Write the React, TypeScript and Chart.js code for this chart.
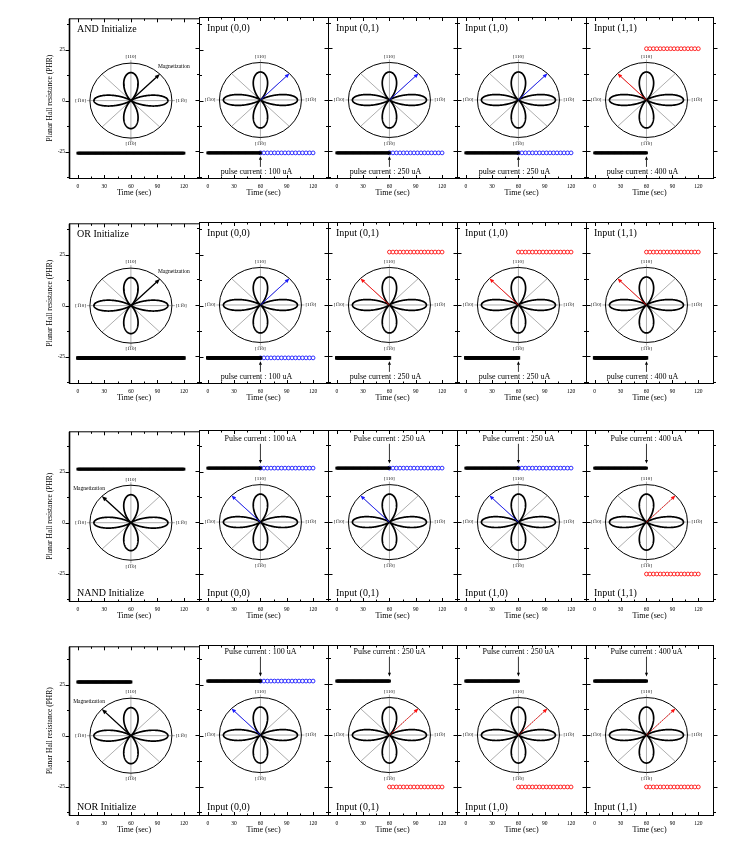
import React, { useEffect, useRef } from 'react';
import { Chart, registerables } from 'chart.js';

Chart.register(...registerables);

const SERIF = '"Liberation Serif", "Times New Roman", Times, serif';

// ---------------- data ----------------
// sampling times (sec)
const TIME_FULL_SEC = [
  0, 1, 2, 3, 4, 5, 6, 7, 8, 9, 10, 11, 12, 13, 14, 15, 16, 17, 18, 19, 20,
  21, 22, 23, 24, 25, 26, 27, 28, 29, 30, 31, 32, 33, 34, 35, 36, 37, 38, 39, 40,
  41, 42, 43, 44, 45, 46, 47, 48, 49, 50, 51, 52, 53, 54, 55, 56, 57, 58, 59, 60,
  61, 62, 63, 64, 65, 66, 67, 68, 69, 70, 71, 72, 73, 74, 75, 76, 77, 78, 79, 80,
  81, 82, 83, 84, 85, 86, 87, 88, 89, 90, 91, 92, 93, 94, 95, 96, 97, 98, 99, 100,
  101, 102, 103, 104, 105, 106, 107, 108, 109, 110, 111, 112, 113, 114, 115, 116, 117, 118, 119, 120,
];
const TIME_BEFORE_SEC = [
  0, 1, 2, 3, 4, 5, 6, 7, 8, 9, 10, 11, 12, 13, 14, 15, 16, 17, 18, 19, 20,
  21, 22, 23, 24, 25, 26, 27, 28, 29, 30, 31, 32, 33, 34, 35, 36, 37, 38, 39, 40,
  41, 42, 43, 44, 45, 46, 47, 48, 49, 50, 51, 52, 53, 54, 55, 56, 57, 58, 59, 60,
];
const TIME_AFTER_SEC = [
  60, 64, 68, 72, 76, 80, 84, 88, 92, 96, 100, 104, 108, 112, 116, 120,
];

const GATES = ['AND', 'OR', 'NAND', 'NOR'];
// which time base the initialize panel uses (NOR initialize was recorded only to 60 s)
const INIT_FULL = [true, true, true, false];
// PHR level before the pulse, per gate row
const PHR_INIT = [-25.7, -25.7, 26.2, 26.2];
// PHR level after the pulse, per gate row, per input column
const PHR_AFTER = [
  [-25.7, -25.7, -25.7, 24.9],
  [-25.7, 25.7, 25.7, 25.7],
  [26.2, 26.2, 26.2, -25.2],
  [26.2, -25.2, -25.2, -25.2],
];
const INPUTS = ['(0,0)', '(0,1)', '(1,0)', '(1,1)'];
const PULSE_UA = [100, 250, 250, 400];

const X_TICKS = [0, 30, 60, 90, 120];
const X_MINOR = [0, 15, 30, 45, 60, 75, 90, 105, 120];
const Y_TICKS = [-25, 0, 25];
const Y_MINOR = [-37.5, -25, -12.5, 0, 12.5, 25, 37.5];
const Y_MAX = [40.3, 40.3, 44.7, 43.7];
const Y_MIN = [-37.9, -37.9, -38.3, -38.8];

// ---------------- layout ----------------
const COL_EDGES = [69, 199, 328, 457, 586, 713];
const ROW_TOPS = [17, 222, 430, 645];
const ROW_BOTTOMS = [178, 383, 601, 815];
const BAR_RADIUS = [2, 2.5, 2, 2.1];
const PAD_T = 6;
const PAD_R = 6;
const PAD_B = 22;
const PAD_L = 6;
const FIRST_LEFT = 40;

const BLUE = '#1a1aff';
const RED = '#ff1010';

function geom(r: number, c: number) {
  const left = c === 0 ? FIRST_LEFT : COL_EDGES[c] - PAD_L;
  const padL = COL_EDGES[c] - left;
  const plotW = COL_EDGES[c + 1] - COL_EDGES[c];
  const plotH = ROW_BOTTOMS[r] - ROW_TOPS[r];
  return {
    left,
    top: ROW_TOPS[r] - PAD_T,
    padL,
    w: padL + plotW + PAD_R,
    h: PAD_T + plotH + PAD_B,
  };
}

function line(ctx: CanvasRenderingContext2D, x0: number, y0: number, x1: number, y1: number) {
  ctx.beginPath();
  ctx.moveTo(x0, y0);
  ctx.lineTo(x1, y1);
  ctx.stroke();
}

function arrow(
  ctx: CanvasRenderingContext2D,
  x0: number, y0: number, x1: number, y1: number,
  color: string, lw: number, head: number, dash: number[] = []
) {
  ctx.save();
  ctx.strokeStyle = color;
  ctx.fillStyle = color;
  ctx.lineWidth = lw;
  ctx.setLineDash(dash);
  const ang = Math.atan2(y1 - y0, x1 - x0);
  const bx = x1 - Math.cos(ang) * head * 0.8;
  const by = y1 - Math.sin(ang) * head * 0.8;
  line(ctx, x0, y0, bx, by);
  ctx.setLineDash([]);
  ctx.beginPath();
  ctx.moveTo(x1, y1);
  ctx.lineTo(x1 - Math.cos(ang - 0.4) * head, y1 - Math.sin(ang - 0.4) * head);
  ctx.lineTo(x1 - Math.cos(ang + 0.4) * head, y1 - Math.sin(ang + 0.4) * head);
  ctx.closePath();
  ctx.fill();
  ctx.restore();
}

function makeChart(canvas: HTMLCanvasElement, r: number, c: number) {
  const g = geom(r, c);
  const isInit = c === 0;
  const initLevel = PHR_INIT[r];
  const afterLevel = isInit ? initLevel : PHR_AFTER[r][c - 1];
  const switched = Math.sign(afterLevel) !== Math.sign(initLevel);
  const afterColor = switched ? RED : BLUE;
  const topRow = r < 2;
  const title = isInit ? `${GATES[r]} Initialize` : `Input ${INPUTS[c - 1]}`;
  const arrowDeg = afterLevel < 0 ? 45 : 135;
  const arrowColor = isInit ? '#000' : afterColor;

  const blackTimes = isInit && INIT_FULL[r] ? TIME_FULL_SEC : TIME_BEFORE_SEC;
  const datasets: any[] = [
    {
      data: blackTimes.map((t) => ({ x: t, y: initLevel })),
      pointStyle: 'rect',
      pointRadius: BAR_RADIUS[r],
      backgroundColor: '#000',
      borderColor: '#000',
      borderWidth: 0,
    },
  ];
  if (!isInit) {
    datasets.push({
      data: TIME_AFTER_SEC.map((t) => ({ x: t, y: afterLevel })),
      pointStyle: 'circle',
      pointRadius: 1.9,
      backgroundColor: '#ffffff',
      borderColor: afterColor,
      borderWidth: 0.9,
    });
  }

  const insetPlugin = {
    id: `panel_${r}_${c}`,
    afterDraw(chart: any) {
      const { ctx, chartArea: a, scales } = chart;
      const xs = scales.x;
      const ys = scales.y;
      ctx.save();
      // frame
      const L = a.left + 0.5, R = a.right + 0.5, T = a.top + 0.5, B = a.bottom + 0.5;
      ctx.strokeStyle = '#000';
      ctx.lineWidth = 1;
      ctx.strokeRect(L, T, R - L, B - T);
      if (c === 0) {
        ctx.lineWidth = 1.6;
        line(ctx, L, T, L, B);
        ctx.lineWidth = 1;
      }
      // y ticks (outward, both sides)
      for (const v of Y_MINOR) {
        const py = Math.round(ys.getPixelForValue(v)) + 0.5;
        const len = v % 25 === 0 ? 4 : 2.5;
        line(ctx, L - len, py, L, py);
        line(ctx, R, py, R + len, py);
      }
      // x ticks (inward, top & bottom)
      for (const v of X_MINOR) {
        const px = Math.round(xs.getPixelForValue(v)) + 0.5;
        const len = v % 30 === 0 ? 3.5 : 2;
        line(ctx, px, B, px, B - len);
        line(ctx, px, T, px, T + len);
      }

      // ----- polar inset -----
      const cx = xs.getPixelForValue(60);
      const cy = ys.getPixelForValue(0);
      const RX = 41, RY = 37.5;
      ctx.strokeStyle = '#777';
      ctx.lineWidth = 0.6;
      line(ctx, cx - RX - 3, cy, cx + RX + 3, cy);
      line(ctx, cx, cy - RY - 3, cx, cy + RY + 3);
      for (const d of [45, 135]) {
        const t = (d * Math.PI) / 180;
        line(ctx, cx + RX * Math.cos(t), cy - RY * Math.sin(t), cx - RX * Math.cos(t), cy + RY * Math.sin(t));
      }
      ctx.strokeStyle = '#000';
      ctx.lineWidth = 1;
      ctx.beginPath();
      ctx.ellipse(cx, cy, RX, RY, 0, 0, Math.PI * 2);
      ctx.stroke();
      // four-lobed (clover) angular pattern
      const LX = 37, LY = 28;
      ctx.lineWidth = 1.7;
      ctx.beginPath();
      for (let i = 0; i <= 720; i++) {
        const t = (i * Math.PI) / 360;
        const rr = Math.abs(Math.cos(2 * t)) ** 2.2;
        const px = cx + rr * Math.cos(t) * LX;
        const py = cy - rr * Math.sin(t) * LY;
        if (i === 0) ctx.moveTo(px, py);
        else ctx.lineTo(px, py);
      }
      ctx.closePath();
      ctx.stroke();
      // direction labels
      ctx.fillStyle = '#000';
      ctx.font = `5px ${SERIF}`;
      ctx.textBaseline = 'middle';
      ctx.textAlign = 'center';
      ctx.fillText('[110]', cx, cy - RY - 6);
      ctx.fillText('[1\u03051\u03050]', cx, cy + RY + 6);
      ctx.textAlign = 'right';
      ctx.fillText('[1\u030510]', cx - RX - 4, cy);
      ctx.textAlign = 'left';
      ctx.fillText('[11\u03050]', cx + RX + 4, cy);

      // magnetization arrow
      const at = (arrowDeg * Math.PI) / 180;
      const tx = cx + RX * Math.cos(at);
      const ty = cy - RY * Math.sin(at);
      if (isInit) {
        arrow(ctx, cx, cy, tx, ty, '#000', 1.3, 5.5);
        ctx.font = `5.5px ${SERIF}`;
        ctx.fillStyle = '#000';
        if (arrowDeg === 45) {
          ctx.textAlign = 'left';
          ctx.fillText('Magnetization', tx - 2, ty - 8);
        } else {
          ctx.textAlign = 'right';
          ctx.fillText('Magnetization', tx + 3, ty - 8);
        }
      } else {
        arrow(ctx, cx, cy, tx, ty, arrowColor, 0.9, 5, switched && !topRow ? [2, 1] : []);
      }

      // panel title
      ctx.fillStyle = '#000';
      ctx.font = `10px ${SERIF}`;
      ctx.textAlign = 'left';
      ctx.textBaseline = 'middle';
      ctx.fillText(title, a.left + 8, topRow ? a.top + 11 : a.bottom - 8);

      // pulse annotation
      if (!isInit) {
        const label = `${topRow ? 'pulse' : 'Pulse'} current : ${PULSE_UA[c - 1]} uA`;
        ctx.font = `8px ${SERIF}`;
        ctx.textAlign = 'center';
        if (topRow) {
          ctx.fillText(label, cx - 4, ys.getPixelForValue(-35));
          arrow(ctx, cx, ys.getPixelForValue(-32.5), cx, ys.getPixelForValue(-27.3), '#000', 0.8, 4);
        } else {
          ctx.fillText(label, cx, ys.getPixelForValue(40.5));
          arrow(ctx, cx, ys.getPixelForValue(38), cx, ys.getPixelForValue(28.4), '#000', 0.8, 4);
        }
      }
      ctx.restore();
    },
  };

  return new Chart(canvas, {
    type: 'scatter',
    data: { datasets },
    options: {
      animation: false,
      responsive: false,
      devicePixelRatio: 1,
      events: [],
      layout: {
        autoPadding: false,
        padding: { left: c === 0 ? 0 : g.padL, right: PAD_R, top: PAD_T, bottom: 0 },
      },
      plugins: { legend: { display: false }, tooltip: { enabled: false } },
      scales: {
        x: {
          type: 'linear',
          position: 'bottom',
          min: -10,
          max: 137,
          afterBuildTicks: (s: any) => {
            s.ticks = X_TICKS.map((v) => ({ value: v }));
          },
          afterFit: (s: any) => {
            s.height = PAD_B;
          },
          grid: { display: false, drawTicks: false },
          border: { display: false },
          ticks: {
            font: { family: SERIF, size: 5.5 },
            color: '#000',
            padding: 5,
            maxRotation: 0,
            minRotation: 0,
            autoSkip: false,
          },
          title: {
            display: true,
            text: 'Time (sec)',
            color: '#000',
            font: { family: SERIF, size: 8 },
            padding: { top: 0, bottom: 2.7 },
          },
        },
        y: {
          type: 'linear',
          position: 'left',
          display: c === 0,
          min: Y_MIN[r],
          max: Y_MAX[r],
          afterBuildTicks: (s: any) => {
            s.ticks = Y_TICKS.map((v) => ({ value: v }));
          },
          afterFit: (s: any) => {
            if (c === 0) s.width = g.padL;
          },
          grid: { display: false, drawTicks: false },
          border: { display: false },
          ticks: { font: { family: SERIF, size: 5.5 }, color: '#000', padding: 4 },
          title: {
            display: true,
            text: 'Planar Hall resistance (PHR)',
            color: '#000',
            font: { family: SERIF, size: 7.5 },
            padding: { top: 6, bottom: 0 },
          },
        },
      },
    } as any,
    plugins: [insetPlugin],
  });
}

function Panel({ r, c }: { r: number; c: number }) {
  const ref = useRef<HTMLCanvasElement>(null);
  const g = geom(r, c);
  useEffect(() => {
    const chart = makeChart(ref.current as HTMLCanvasElement, r, c);
    return () => chart.destroy();
  }, [r, c]);
  return (
    <canvas
      ref={ref}
      width={g.w}
      height={g.h}
      style={{ position: 'absolute', left: g.left, top: g.top, width: g.w, height: g.h }}
    />
  );
}

export default function App() {
  const panels: any[] = [];
  for (let r = 0; r < 4; r++) {
    for (let c = 0; c < 5; c++) {
      panels.push(<Panel key={`${r}-${c}`} r={r} c={c} />);
    }
  }
  return (
    <div style={{ position: 'absolute', left: 0, top: 0, width: 738, height: 851, background: '#fff' }}>
      {panels}
    </div>
  );
}
